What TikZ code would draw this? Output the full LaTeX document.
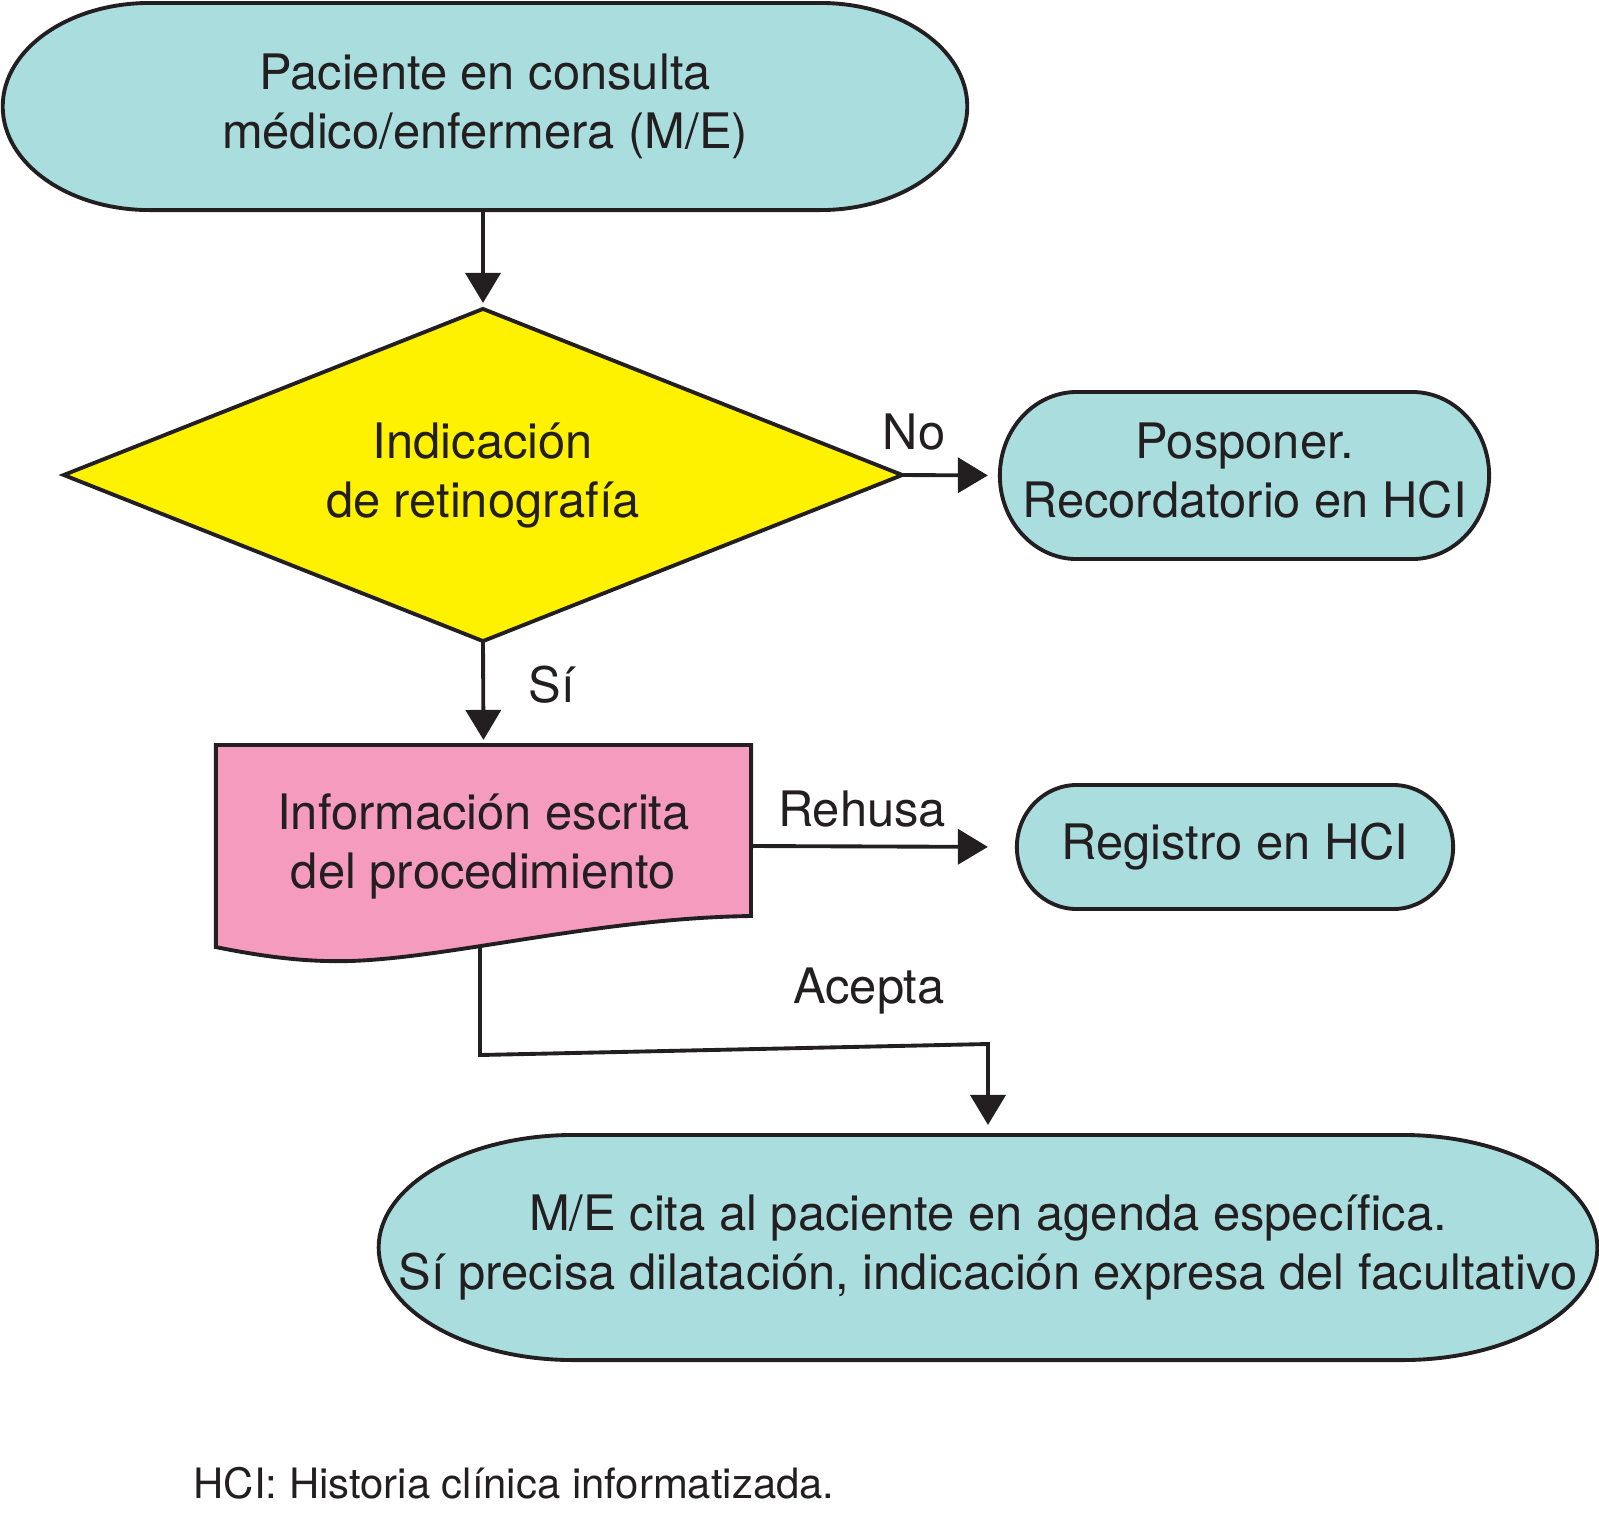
\documentclass[tikz,border=0pt]{standalone}
\usepackage{fontspec}
\setmainfont{TeX Gyre Heros}
\usetikzlibrary{shapes.geometric,arrows.meta,backgrounds,calc}

\definecolor{termcyan}{RGB}{170,221,222}
\definecolor{decyellow}{RGB}{255,242,0}
\definecolor{docpink}{RGB}{244,155,190}
\definecolor{ink}{RGB}{35,31,32}

\tikzset{
  box/.style={inner sep=0pt, outer sep=0pt, align=center, text=ink, text depth=3pt,
    font=\fontsize{13.9}{16.8}\selectfont},
  decision/.style={box, diamond, aspect=2.5, draw=ink, line width=1.1pt, fill=decyellow},
  flow/.style={draw=ink, line width=1.1pt, -{Triangle[length=3mm,width=3.5mm]}},
  lbl/.style={text=ink, font=\fontsize{13.9}{16.8}\selectfont, inner sep=0pt, anchor=base},
}

% rounded terminal drawn round a node: node name, x radius of the ends
\newcommand{\capsule}[2]{%
  \path[draw=ink, line width=1.1pt, fill=termcyan]
    let \p1=(#1.north west), \p2=(#1.south east), \n1={0.5*(\y1-\y2)} in
    ({\x1+#2},\y1) -- ({\x2-#2},\y1)
    arc[start angle=90, end angle=-90, x radius=#2, y radius=\n1]
    -- ({\x1+#2},\y2)
    arc[start angle=270, end angle=90, x radius=#2, y radius=\n1] -- cycle;}

\begin{document}
\begin{tikzpicture}[x=0.01cm, y=-0.01cm]
    \useasboundingbox (0,0) rectangle (1599,1517);

    \node[box, minimum width=9.64cm, minimum height=2.07cm] (start) at (485,106.5) {Paciente en consulta\\médico/enfermera (M/E)};
    \node[decision, minimum width=8.38cm, minimum height=3.32cm] (ind) at (483,475) {Indicación\\de retinografía};
    \node[box, minimum width=4.89cm, minimum height=1.67cm] (pos) at (1244.5,475.5) {Posponer.\\Recordatorio en HCI};
    \node[box, minimum width=5.35cm, minimum height=2.02cm] (info) at (483.5,846) {Información escrita\\del procedimiento};
    \node[box, minimum width=4.36cm, minimum height=1.24cm] (reg) at (1235,847) {Registro en HCI};
    \node[box, minimum width=12.18cm, minimum height=2.25cm] (cita) at (988,1247.5) {M/E cita al paciente en agenda específica.\\Sí precisa dilatación, indicación expresa del facultativo};

    \node[lbl] (no) at (914,449) {No};
    \node[lbl] (si) at (552,702) {Sí};
    \node[lbl] (rehusa) at (862,826) {Rehusa};
    \node[lbl] (acepta) at (869,1003) {Acepta};
    \node[lbl, anchor=base west, font=\fontsize{11.9}{14}\selectfont] (nota) at (193,1498) {HCI: Historia clínica informatizada.};

    \begin{scope}[on background layer]
    \capsule{start}{1.47cm}
    \capsule{pos}{0.77cm}
    \capsule{reg}{0.6cm}
    \capsule{cita}{1.95cm}
    \draw[ink, line width=1.1pt, fill=docpink] (info.north west) -- (info.north east) -- (751,916)
        .. controls (600,918) and (450,958) .. (350,961)
        .. controls (310,962) and (270,958) .. (info.south west) -- cycle;
    \end{scope}

    \coordinate (bend1) at (480,1055);
    \coordinate (bend2) at (988,1044);
    \draw[flow, shorten >=0.06cm] (start.south -| ind.north) -- (ind.north);
    \draw[flow, shorten >=0.12cm] (ind.east) -- (pos.west);
    \draw[flow, shorten >=0.05cm] (ind.south) -- (info.north);
    \draw[flow, shorten >=0.29cm] (info.east) -- (reg.west);
    \draw[flow, shorten >=0.1cm] (info.south -| bend1) -- (bend1) -- (bend2) -- (cita.north);
\end{tikzpicture}
\end{document}
